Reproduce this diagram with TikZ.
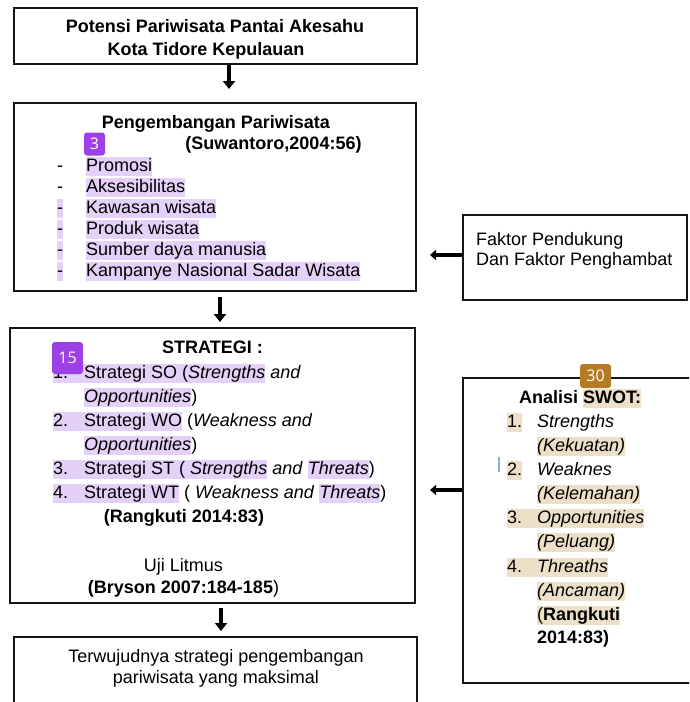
\documentclass[tikz,border=0pt]{standalone}
\usepackage{fontspec}
\setmainfont{Liberation Sans}
\newfontfamily\badgefont{Open Sans}
\usetikzlibrary{arrows.meta}
\definecolor{lav}{HTML}{E4D0F8}
\definecolor{hltan}{HTML}{EDE0C8}
\definecolor{badgep}{HTML}{9D40E8}
\definecolor{badgeb}{HTML}{B47C22}
\definecolor{cursorblue}{HTML}{8AAEDC}
\definecolor{framegray}{HTML}{151515}
\newcommand\hst{\rule[-4.5pt]{0pt}{19pt}}
\newcommand\hlp[1]{{\setlength{\fboxsep}{0pt}\colorbox{lav}{\hst#1}}}
\newcommand\hlt[1]{{\setlength{\fboxsep}{0pt}\colorbox{hltan}{\hst#1}}}
\newcommand\numb[1]{\makebox[31pt][l]{#1}}
\tikzset{
  boxframe/.style={draw=framegray, line width=2.6pt, inner sep=0pt},
  txt/.style={font=\fontsize{18}{21}\selectfont, inner sep=0pt},
  arr/.style={line width=4pt, -{Triangle[width=12pt,length=8pt]}},
  harr/.style={line width=4pt, -{Triangle[width=10pt,length=6pt]}},
  badge/.style={rounded corners=3pt, text=white, inner sep=0pt,
    font=\badgefont\fontsize{16}{16}\selectfont}
}
\begin{document}
\begin{tikzpicture}[x=1pt,y=-1pt]
\useasboundingbox (0,0) rectangle (689,702);
\clip (0,0) rectangle (689,702);
\fill[white] (0,0) rectangle (689,702);

% frames
\node[boxframe, minimum width=403pt, minimum height=56pt] (b1) at (215.5,36) {};
\node[boxframe, minimum width=402pt, minimum height=188pt] (b2) at (215,197) {};
\node[boxframe, minimum width=405pt, minimum height=275pt] (b3) at (212.5,465.5) {};
\node[boxframe, minimum width=403pt, minimum height=73pt] (b4) at (215.5,673.5) {};
\node[boxframe, minimum width=224pt, minimum height=85pt] (bf) at (575,257.5) {};
\node[boxframe, minimum width=240pt, minimum height=305pt] (bs) at (583,530.5) {};

% box 1
\node[txt, anchor=base] (t1a) at (215,32) {\textbf{Potensi Pariwisata Pantai Akesahu}};
\node[txt, anchor=base] (t1b) at (206,55) {\textbf{Kota Tidore Kepulauan}};

% box 2
\node[txt, anchor=base] (t2a) at (216,128) {\textbf{Pengembangan Pariwisata}};
\node[txt, anchor=base] (t2b) at (273.5,149) {\textbf{(Suwantoro,2004:56)}};
\node[txt, anchor=base west] (d1) at (57,171) {-};
\node[txt, anchor=base west] (d2) at (57,192) {-};
\node[txt, anchor=base west] (d3) at (57,213) {\hlp{-}};
\node[txt, anchor=base west] (d4) at (57,234) {\hlp{-}};
\node[txt, anchor=base west] (d5) at (57,255) {\hlp{-}};
\node[txt, anchor=base west] (d6) at (57,276) {\hlp{-}};
\node[txt, anchor=base west] (i1) at (86,171) {\hlp{Promosi}};
\node[txt, anchor=base west] (i2) at (86,192) {\hlp{Aksesibilitas}};
\node[txt, anchor=base west] (i3) at (86,213) {\hlp{Kawasan wisata}};
\node[txt, anchor=base west] (i4) at (86,234) {\hlp{Produk wisata}};
\node[txt, anchor=base west] (i5) at (86,255) {\hlp{Sumber daya manusia}};
\node[txt, anchor=base west] (i6) at (86,276) {\hlp{Kampanye Nasional Sadar Wisata}};

% box 3
\node[txt, anchor=base] (t3a) at (212.5,353) {\textbf{STRATEGI :}};
\node[txt, anchor=base west] (s1) at (53,378) {\hlp{\numb{1.}Strategi SO (\textit{Strengths}}\textit{ and}};
\node[txt, anchor=base west] (s2) at (84,402) {\hlp{\textit{Opportunities}})};
\node[txt, anchor=base west] (s3) at (53,426) {\hlp{\numb{2.}Strategi WO} (\textit{Weakness and}};
\node[txt, anchor=base west] (s4) at (84,450) {\hlp{\textit{Opportunities}})};
\node[txt, anchor=base west] (s5) at (53,474) {\hlp{\numb{3.}Strategi ST ( \textit{Strengths}} \textit{and} \hlp{\textit{Threats}})};
\node[txt, anchor=base west] (s6) at (53,498) {\hlp{\numb{4.}Strategi WT} ( \textit{Weakness and} \hlp{\textit{Threats}})};
\node[txt, anchor=base] (t3b) at (184,522) {\textbf{(Rangkuti 2014:83)}};
\node[txt, anchor=base] (t3c) at (183.5,571) {Uji Litmus};
\node[txt, anchor=base] (t3d) at (183.5,593) {\textbf{(Bryson 2007:184-185})};

% box 4
\node[txt, anchor=base] (t4a) at (216,662) {Terwujudnya strategi pengembangan};
\node[txt, anchor=base] (t4b) at (216,683) {pariwisata yang maksimal};

% faktor box
\node[txt, anchor=base west] (tfa) at (476,245) {Faktor Pendukung};
\node[txt, anchor=base west] (tfb) at (476,265) {Dan Faktor Penghambat};

% SWOT box
\node[txt, anchor=base west] (w0) at (519,403) {\textbf{Analisi \hlt{SWOT:}}};
\node[txt, anchor=base west] (w1) at (507,427) {\makebox[30pt][l]{\hlt{1.}}\textit{Strengths}};
\node[txt, anchor=base west] (w2) at (537,451) {\hlt{\textit{(Kekuatan)}}};
\node[txt, anchor=base west] (w3) at (507,475) {\makebox[30pt][l]{\hlt{2.}}\textit{Weaknes}};
\node[txt, anchor=base west] (w4) at (537,499) {\hlt{\textit{(Kelemahan)}}};
\node[txt, anchor=base west] (w5) at (507,523) {\hlt{\makebox[30pt][l]{3.}\textit{Opportunities}}};
\node[txt, anchor=base west] (w6) at (537,547) {\hlt{\textit{(Peluang)}}};
\node[txt, anchor=base west] (w7) at (507,572) {\hlt{\makebox[30pt][l]{4.}\textit{Threaths}}};
\node[txt, anchor=base west] (w8) at (537,596) {\hlt{\textit{(Ancaman)}}};
\node[txt, anchor=base west] (w9) at (537,620) {\hlt{(\textbf{Rangkuti}}};
\node[txt, anchor=base west] (w10) at (537,643) {\textbf{2014:83)}};

% cursor mark
\draw[cursorblue, line width=1.2pt] (499,457) -- (499,472);

% connectors
\coordinate (a1e) at (229,89);
\draw[arr] (b1.south -| a1e) -- (a1e);
\coordinate (a2s) at (220,297);
\coordinate (a2e) at (220,322);
\draw[arr] (a2s) -- (a2e);
\coordinate (a3s) at (221,608);
\coordinate (a3e) at (221,631);
\draw[arr] (a3s) -- (a3e);
\coordinate (afe) at (430,255);
\draw[harr] (bf.west |- afe) -- (afe);
\coordinate (ase) at (430,490);
\draw[harr] (bs.west |- ase) -- (ase);

% badges
\node[badge, fill=badgep, minimum width=21pt, minimum height=23pt] (bd3) at (94.5,144) {3};
\node[badge, fill=badgep, minimum width=31pt, minimum height=32pt] (bd15) at (67.5,358) {15};
\node[badge, fill=badgeb, minimum width=31pt, minimum height=24pt] (bd30) at (595.5,376) {30};
\end{tikzpicture}
\end{document}
